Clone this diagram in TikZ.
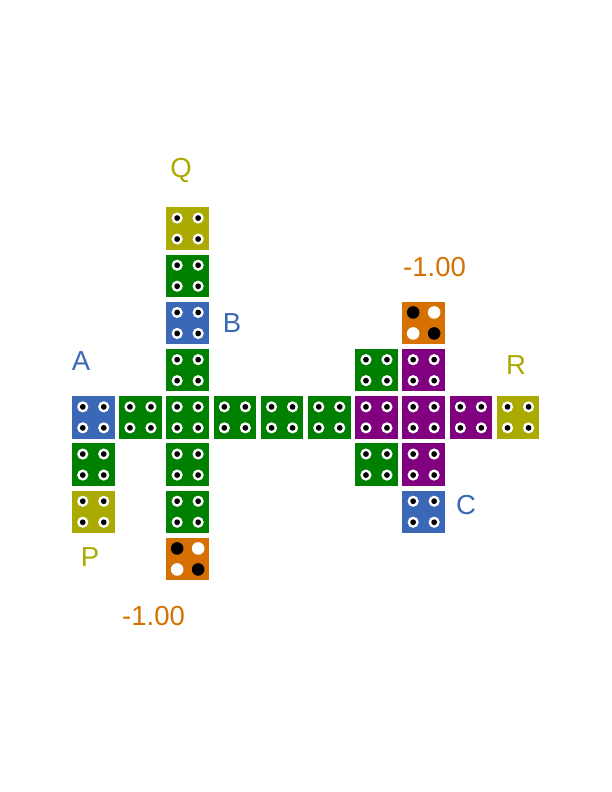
\documentclass[tikz,border=0pt]{standalone}
\usepackage{fontspec}
\setmainfont{Liberation Sans}
\definecolor{tblue}{RGB}{59,104,182}
\definecolor{tolive}{RGB}{170,170,0}
\definecolor{torange}{RGB}{214,112,0}
\definecolor{tgreen}{RGB}{0,128,0}
\definecolor{tpurple}{RGB}{128,0,128}
\newcommand\tl[4]{%
  \node[tile,fill=#4] (#1) at ({72+47.2*#2+21.25},{207.3+47.2*#3+21.25}) {};
  \foreach \dx in {-10.5,10.5}{\foreach \dy in {-10.5,10.5}{
    \fill[white] ([shift={(\dx,\dy)}]#1.center) circle (5.6pt);
    \fill[black] ([shift={(\dx,\dy)}]#1.center) circle (2.9pt);}}}
\newcommand\otl[3]{%
  \node[tile,fill=torange] (#1) at ({72+47.2*#2+21.25},{207.3+47.2*#3+21.25}) {};
  \fill[black] ([shift={(-10.5,-10.5)}]#1.center) circle (6.3pt);
  \fill[white] ([shift={(10.5,-10.5)}]#1.center) circle (6.3pt);
  \fill[white] ([shift={(-10.5,10.5)}]#1.center) circle (6.3pt);
  \fill[black] ([shift={(10.5,10.5)}]#1.center) circle (6.3pt);}
\begin{document}
\begin{tikzpicture}[x=1pt,y=-1pt,
  tile/.style={draw=none,minimum size=42.5pt,inner sep=0pt,outer sep=0pt},
  lbl/.style={font=\fontsize{27.5}{33}\selectfont,inner sep=0pt}]
\useasboundingbox (0,0) rectangle (612,792);
% column c=2
\tl{q}{2}{0}{tolive}
\tl{c2r1}{2}{1}{tgreen}
\tl{b}{2}{2}{tblue}
\tl{c2r3}{2}{3}{tgreen}
\tl{c2r4}{2}{4}{tgreen}
\tl{c2r5}{2}{5}{tgreen}
\tl{c2r6}{2}{6}{tgreen}
\otl{o1}{2}{7}
% main row
\tl{a}{0}{4}{tblue}
\tl{c1r4}{1}{4}{tgreen}
\tl{c3r4}{3}{4}{tgreen}
\tl{c4r4}{4}{4}{tgreen}
\tl{c5r4}{5}{4}{tgreen}
\tl{c6r4}{6}{4}{tpurple}
\tl{c7r4}{7}{4}{tpurple}
\tl{c8r4}{8}{4}{tpurple}
\tl{r}{9}{4}{tolive}
% column c=0
\tl{c0r5}{0}{5}{tgreen}
\tl{p}{0}{6}{tolive}
% column c=6
\tl{c6r3}{6}{3}{tgreen}
\tl{c6r5}{6}{5}{tgreen}
% column c=7
\otl{o2}{7}{2}
\tl{c7r3}{7}{3}{tpurple}
\tl{c7r5}{7}{5}{tpurple}
\tl{c}{7}{6}{tblue}
% labels
\node[lbl,text=tolive] (lq) at (181,170) {Q};
\node[lbl,text=tblue] (lb) at (232,323) {B};
\node[lbl,text=tblue] (la) at (81,361) {A};
\node[lbl,text=tolive] (lp) at (90,557) {P};
\node[lbl,text=torange] (lo1) at (153.5,616) {-1.00};
\node[lbl,text=torange] (lo2) at (434.5,267) {-1.00};
\node[lbl,text=tolive] (lr) at (516,365) {R};
\node[lbl,text=tblue] (lc) at (466,505) {C};
\end{tikzpicture}
\end{document}
